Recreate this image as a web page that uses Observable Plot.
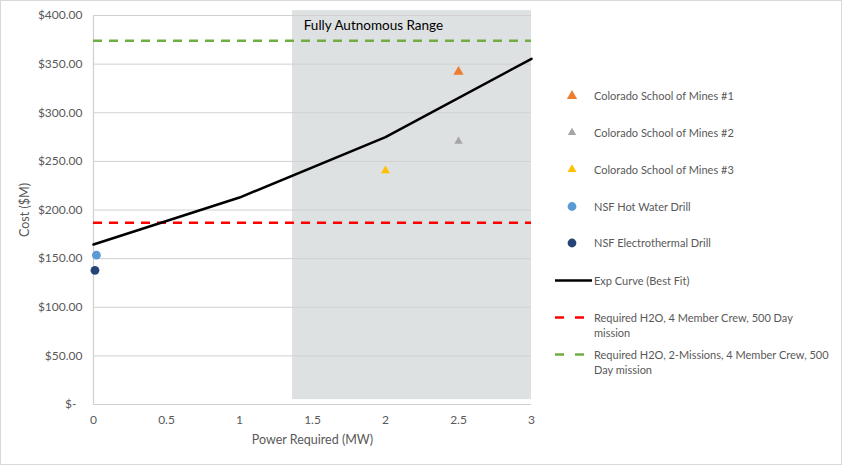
<!DOCTYPE html>
<html>
<head>
<meta charset="utf-8">
<script src="https://cdn.jsdelivr.net/npm/d3@7"></script>
<script src="https://cdn.jsdelivr.net/npm/@observablehq/plot@0.6"></script>
<style>
  html, body { margin: 0; padding: 0; background: #fff; }
  #wrap { position: relative; width: 842px; height: 465px; font-family: Lato, "Open Sans", sans-serif; }
  #frame { position: absolute; left: 0; top: 0; width: 840px; height: 463px; border: 1px solid #d9d9d9; pointer-events: none; }
  #legend { position: absolute; left: 0; top: 0; width: 842px; height: 465px; pointer-events: none; }
  .li { position: absolute; left: 594px; font-size: 11px; color: #595959; line-height: 15px; white-space: nowrap; }
</style>
</head>
<body>
<div id="wrap"><div id="legend"></div><div id="frame"></div></div>
<script>
// ---- data ----
const powerTicks = [0, 0.5, 1, 1.5, 2, 2.5, 3];
const costTicks = [0, 50, 100, 150, 200, 250, 300, 350, 400];

const seriesNames = [
  "Colorado School of Mines #1",
  "Colorado School of Mines #2",
  "Colorado School of Mines #3",
  "NSF Hot Water Drill",
  "NSF Electrothermal Drill"
];
const seriesPower = [2.5, 2.5, 2.0, 0.02, 0.01];
const seriesCost = [342, 270.5, 240.5, 153.5, 138];
const seriesColors = ["#ED7D31", "#A5A5A5", "#FFC000", "#5B9BD5", "#264478"];
const seriesSymbols = ["triangle", "triangle", "triangle", "circle", "circle"];
const seriesSizes = [3.8, 3.1, 3.3, 4.4, 4.4];

const curvePower = [0, 1, 2, 3];
const curveCost = [164.5, 212.8, 275, 355.5];
const curveName = "Exp Curve (Best Fit)";

const reqNames = ["Required H2O, 4 Member Crew, 500 Day\nmission", "Required H2O, 2-Missions, 4 Member Crew, 500\nDay mission"];
const reqCost = [187, 374];
const reqColors = ["#FF0000", "#70AD47"];

const rangeLabel = "Fully Autnomous Range";
const rangeStart = 1.363, rangeEnd = 3, rangeLow = 5, rangeHigh = 405;

// ---- build tables ----
const points = seriesNames.map((n, i) => ({name: n, x: seriesPower[i], y: seriesCost[i], color: seriesColors[i], symbol: seriesSymbols[i], r: seriesSizes[i]}));
const curve = curvePower.map((x, i) => ({x, y: curveCost[i]}));
const reqs = reqNames.map((n, i) => ({name: n, y: reqCost[i], color: reqColors[i]}));

const chart = Plot.plot({
  width: 842,
  height: 465,
  marginLeft: 93,
  marginRight: 311,
  marginTop: 15,
  marginBottom: 61,
  style: {fontFamily: "Lato, 'Open Sans', sans-serif", fontSize: "12px", color: "#595959", background: "transparent"},
  x: {domain: [0, 3], ticks: powerTicks, label: null},
  y: {domain: [0, 400], ticks: costTicks, label: null},
  r: {type: "identity"},
  marks: [
    Plot.rect([{x1: rangeStart, x2: rangeEnd, y1: rangeLow, y2: rangeHigh}], {x1: "x1", x2: "x2", y1: "y1", y2: "y2", fill: "#DEE1E2"}),
    Plot.gridY(costTicks.filter(d => d > 0), {stroke: "#D0D0D0", strokeOpacity: 1}),
    Plot.ruleY([0], {stroke: "#D0D0D0", strokeWidth: 1.2}),
    Plot.ruleX([0], {stroke: "#D0D0D0", strokeWidth: 1.2}),
    Plot.axisX({ticks: powerTicks, tickSize: 0, tickPadding: 11, tickFormat: d => String(d), fill: "#595959"}),
    Plot.axisX({ticks: [], tickSize: 0, label: "Power Required (MW)", labelAnchor: "center", labelArrow: "none", labelOffset: 39, fontSize: 12.5, fill: "#595959"}),
    Plot.axisY({ticks: costTicks, tickSize: 0, tickPadding: 11, tickFormat: d => d === 0 ? "$-  " : "$" + d.toFixed(2), fill: "#595959"}),
    Plot.axisY({ticks: [], tickSize: 0, label: "Cost ($M)", labelAnchor: "center", labelArrow: "none", labelOffset: 73, fontSize: 12.5, fill: "#595959"}),
    Plot.text([{x: 1.44, y: 390, t: rangeLabel}], {x: "x", y: "y", text: "t", textAnchor: "start", fill: "#000", fontSize: 13.5}),
    Plot.ruleY(reqs, {y: "y", stroke: "color", strokeWidth: 2.5, strokeDasharray: "9,7"}),
    Plot.line(curve, {x: "x", y: "y", stroke: "#000", strokeWidth: 2.5}),
    Plot.dot(points, {x: "x", y: "y", fill: "color", symbol: "symbol", r: "r", stroke: "none"})
  ]
});
chart.style.position = "absolute";
chart.style.left = "0px";
chart.style.top = "0px";
const wrap = document.getElementById("wrap");
wrap.insertBefore(chart, wrap.firstChild);

// ---- legend ----
const legend = d3.select("#legend");
const lsvg = legend.append("svg").attr("width", 842).attr("height", 465).style("position", "absolute").style("left", 0).style("top", 0);
const markerY = [96, 132.5, 169.5, 206.5, 243];
points.forEach((p, i) => {
  const sym = p.symbol === "triangle" ? d3.symbolTriangle : d3.symbolCircle;
  lsvg.append("path").attr("d", d3.symbol(sym, Math.PI * p.r * p.r)()).attr("transform", `translate(572,${markerY[i]})`).attr("fill", p.color);
  legend.append("div").attr("class", "li").style("top", (markerY[i] - 8) + "px").text(p.name);
});
lsvg.append("line").attr("x1", 555).attr("x2", 592).attr("y1", 280.5).attr("y2", 280.5).attr("stroke", "#000").attr("stroke-width", 2.5);
legend.append("div").attr("class", "li").style("top", (280.5 - 8) + "px").text(curveName);
const reqY = [317.5, 354.5];
reqs.forEach((r, i) => {
  lsvg.append("line").attr("x1", 555).attr("x2", 584).attr("y1", reqY[i]).attr("y2", reqY[i]).attr("stroke", r.color).attr("stroke-width", 2.5).attr("stroke-dasharray", "9,11");
  const div = legend.append("div").attr("class", "li").style("top", (reqY[i] - 8) + "px");
  r.name.split("\n").forEach((line, k) => { if (k) div.append("br"); div.append("span").text(line); });
});
</script>
</body>
</html>
